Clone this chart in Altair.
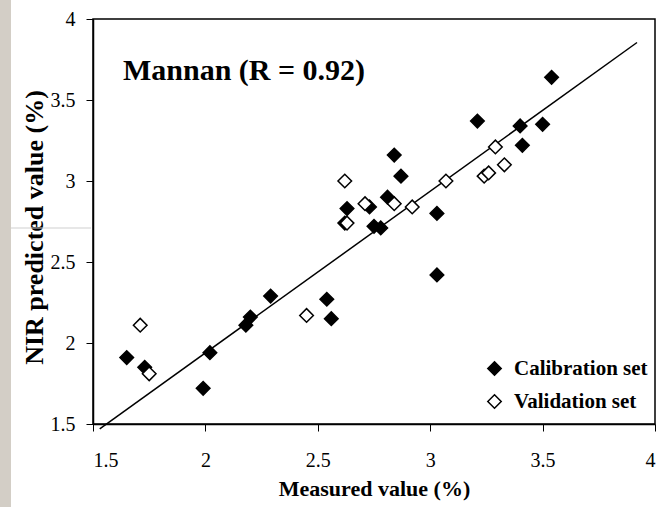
import altair as alt
import pandas as pd

# Calibration set (filled diamonds)
cal_x = [1.65, 1.73, 1.99, 2.02, 2.18, 2.20, 2.29, 2.54, 2.56, 2.62, 2.63, 2.73, 2.75, 2.78,
         2.81, 2.84, 2.87, 3.03, 3.03, 3.21, 3.40, 3.41, 3.50, 3.54]
cal_y = [1.91, 1.85, 1.72, 1.94, 2.11, 2.16, 2.29, 2.27, 2.15, 2.74, 2.83, 2.84, 2.72, 2.71,
         2.90, 3.16, 3.03, 2.80, 2.42, 3.37, 3.34, 3.22, 3.35, 3.64]
# Validation set (open diamonds)
val_x = [1.71, 1.75, 2.45, 2.62, 2.63, 2.71, 2.84, 2.92, 3.07, 3.24, 3.26, 3.29, 3.33]
val_y = [2.11, 1.81, 2.17, 3.00, 2.74, 2.86, 2.86, 2.84, 3.00, 3.03, 3.05, 3.21, 3.10]
# Fitted line end points
line_x = [1.53, 3.92]
line_y = [1.47, 3.855]

set_names = ["Calibration set", "Validation set"]
ticks = [1.5, 2, 2.5, 3, 3.5, 4]
annotation = ["Mannan (R = 0.92)"]

FONT = "Liberation Serif, serif"

pts = pd.DataFrame({
    "x": cal_x + val_x,
    "y": cal_y + val_y,
    "set": [set_names[0]] * len(cal_x) + [set_names[1]] * len(val_x),
    "ord": list(range(len(cal_x) + len(val_x))),
})
line_df = pd.DataFrame({"x": line_x, "y": line_y})

xscale = alt.Scale(domain=[1.5, 4], nice=False, zero=False)
yscale = alt.Scale(domain=[1.5, 4], nice=False, zero=False)

xaxis = alt.Axis(values=ticks, format="~g", title="Measured value (%)", grid=False,
                 tickSize=7, tickColor="black", domainColor="black", domainWidth=1.5,
                 labelFont=FONT, labelFontSize=20, labelColor="black", labelPadding=19,
                 titleFont=FONT, titleFontSize=22, titleFontWeight="bold", titleColor="black",
                 titleBaseline="alphabetic", titleY=71, titleX=281, titleAlign="center")
yaxis = alt.Axis(values=ticks, format="~g", title="NIR predicted value (%)", grid=False,
                 tickSize=7, tickColor="black", domainColor="black", domainWidth=1.5,
                 labelFont=FONT, labelFontSize=20, labelColor="black", labelPadding=11,
                 titleFont=FONT, titleFontSize=26, titleFontWeight="bold", titleColor="black",
                 titleAngle=270, titleBaseline="alphabetic", titleAlign="center",
                 titleX=-51, titleY=208)

strip = alt.Chart(pd.DataFrame({"a": [0]})).mark_rect(color="#d3cec6").encode(
    x=alt.value(-93), x2=alt.value(-82), y=alt.value(-19), y2=alt.value(488))
faint = alt.Chart(pd.DataFrame({"a": [0]})).mark_rule(color="#cfcfcf", strokeWidth=1).encode(
    x=alt.value(-82), x2=alt.value(-2), y=alt.value(209))

line = alt.Chart(line_df).mark_line(color="black", strokeWidth=1.5).encode(
    x=alt.X("x:Q", scale=xscale, axis=xaxis),
    y=alt.Y("y:Q", scale=yscale, axis=yaxis),
)

points = alt.Chart(pts).mark_point(
    shape="diamond", filled=True, stroke="black", strokeWidth=1.5, size=185, opacity=1,
    fillOpacity=1
).encode(
    x=alt.X("x:Q", scale=xscale, axis=xaxis),
    y=alt.Y("y:Q", scale=yscale, axis=yaxis),
    color=alt.Color("set:N", scale=alt.Scale(domain=set_names, range=["black", "white"]),
                    legend=alt.Legend(title=None, orient="none", legendX=391, legendY=339,
                                      symbolType="diamond", symbolSize=180,
                                      symbolStrokeColor="black", symbolStrokeWidth=1.5,
                                      labelFont=FONT, labelFontSize=21, labelFontWeight="bold",
                                      labelColor="black", labelOffset=9, rowPadding=11,
                                      labelLimit=300, padding=0)),
    order=alt.Order("ord:Q"),
)

text = alt.Chart(pd.DataFrame({"t": annotation})).mark_text(
    align="left", baseline="alphabetic", font=FONT, fontSize=30, fontWeight="bold", color="black"
).encode(x=alt.value(30), y=alt.value(61), text="t:N")

chart = alt.layer(strip, faint, line, points, text).properties(
    width=562, height=405,
    padding={"left": 93, "top": 19, "right": 9, "bottom": 83},
    autosize=alt.AutoSizeParams(type="none"),
    background="white",
).configure(font=FONT).configure_view(stroke="black", strokeWidth=1.5)

chart.save("out.html", embed_options={"renderer": "svg", "actions": False})
